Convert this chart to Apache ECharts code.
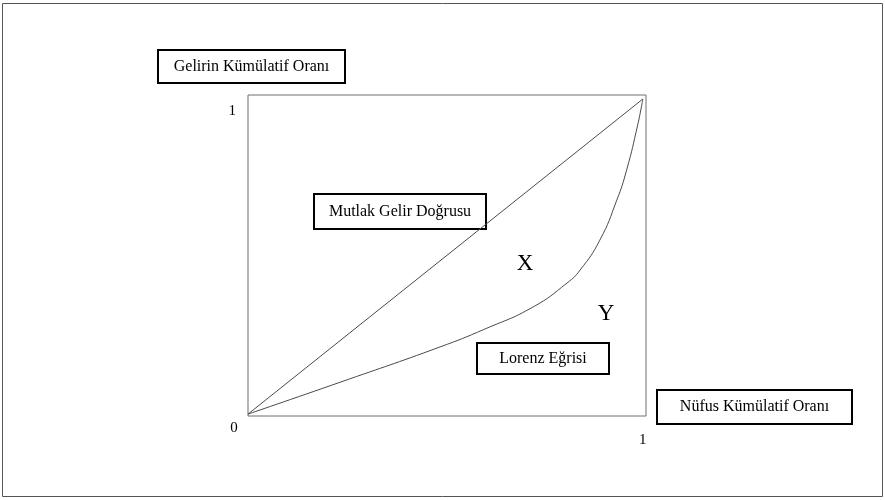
<!DOCTYPE html>
<html>
<head>
<meta charset="utf-8">
<script src="https://cdn.jsdelivr.net/npm/echarts@6/dist/echarts.min.js"></script>
<style>
  html, body { margin: 0; padding: 0; background: #fff; }
  #main { width: 885px; height: 500px; }
</style>
</head>
<body>
<div id="main"></div>
<script>
// data
var populationShare = [0, 0.233, 0.486, 0.600, 0.722, 0.808, 0.841, 0.891, 0.934, 0.959, 0.987, 1];
var incomeShare     = [0, 0.101, 0.213, 0.270, 0.340, 0.416, 0.457, 0.552, 0.679, 0.775, 0.918, 1];
var equalityX = [0, 1];
var equalityY = [0, 1];
var xTickLabels = ['0', '1'];
var yTickLabels = ['1'];

var serif = '"Liberation Serif", "DejaVu Serif", serif';

function pairs(xs, ys) {
    var out = [];
    for (var i = 0; i < xs.length; i++) out.push([xs[i], ys[i]]);
    return out;
}

// labelled boxes drawn over the chart
function boxLabel(x, y, w, h, text) {
    return {
        type: 'group',
        left: x, top: y,
        children: [
            { type: 'rect', shape: { x: 0, y: 0, width: w, height: h },
              style: { fill: '#fff', stroke: '#000', lineWidth: 2 } },
            { type: 'text', x: w / 2, y: h / 2,
              style: { text: text, font: '16px ' + serif, fill: '#000',
                       align: 'center', verticalAlign: 'middle' } }
        ]
    };
}

var myChart = echarts.init(document.getElementById('main'));

var option = {
    backgroundColor: '#fff',
    animation: false,
    grid: {
        left: 248, top: 95, width: 398, height: 321,
        show: true, borderColor: '#6e6e6e', borderWidth: 1
    },
    xAxis: {
        type: 'value', min: 0, max: 1.008,
        axisLine: { show: false }, axisTick: { show: false }, splitLine: { show: false },
        axisLabel: {
            customValues: [0, 1],
            margin: 5,
            fontFamily: serif, fontSize: 15, color: '#000',
            formatter: function (v) {
                return v === 0 ? '{a|' + xTickLabels[0] + '}' : '{b|' + xTickLabels[1] + '}';
            },
            rich: {
                a: { fontFamily: serif, fontSize: 15, color: '#000', padding: [0, 28, 0, 0] },
                b: { fontFamily: serif, fontSize: 15, color: '#000', padding: [12, 0, 0, 0] }
            }
        }
    },
    yAxis: {
        type: 'value', min: -0.006, max: 1.0127,
        axisLine: { show: false }, axisTick: { show: false }, splitLine: { show: false },
        axisLabel: {
            customValues: [1],
            margin: 12,
            fontFamily: serif, fontSize: 15, color: '#000',
            formatter: function () { return '{a|' + yTickLabels[0] + '}'; },
            rich: {
                a: { fontFamily: serif, fontSize: 15, color: '#000', padding: [24, 0, 0, 0] }
            }
        }
    },
    series: [
        {
            name: 'Mutlak Gelir Doğrusu',
            type: 'line',
            data: pairs(equalityX, equalityY),
            symbol: 'none',
            lineStyle: { color: '#4a4a4a', width: 1 }
        },
        {
            name: 'Lorenz Eğrisi',
            type: 'line',
            data: pairs(populationShare, incomeShare),
            smooth: 0.5,
            symbol: 'none',
            lineStyle: { color: '#4a4a4a', width: 1 }
        }
    ],
    graphic: [
        { type: 'rect', shape: { x: 2.5, y: 3.5, width: 880, height: 493 },
          style: { fill: 'none', stroke: '#555', lineWidth: 1 }, silent: true },
        boxLabel(157, 49, 187, 33, 'Gelirin Kümülatif Oranı'),
        boxLabel(313, 193, 172, 35, 'Mutlak Gelir Doğrusu'),
        boxLabel(476, 342, 132, 31, 'Lorenz Eğrisi'),
        boxLabel(656, 389, 195, 34, 'Nüfus Kümülatif Oranı'),
        { type: 'text', x: 525, y: 264,
          style: { text: 'X', font: '23px ' + serif, fill: '#000', align: 'center', verticalAlign: 'middle' } },
        { type: 'text', x: 606, y: 314,
          style: { text: 'Y', font: '23px ' + serif, fill: '#000', align: 'center', verticalAlign: 'middle' } }
    ]
};

myChart.setOption(option, true);
</script>
</body>
</html>
